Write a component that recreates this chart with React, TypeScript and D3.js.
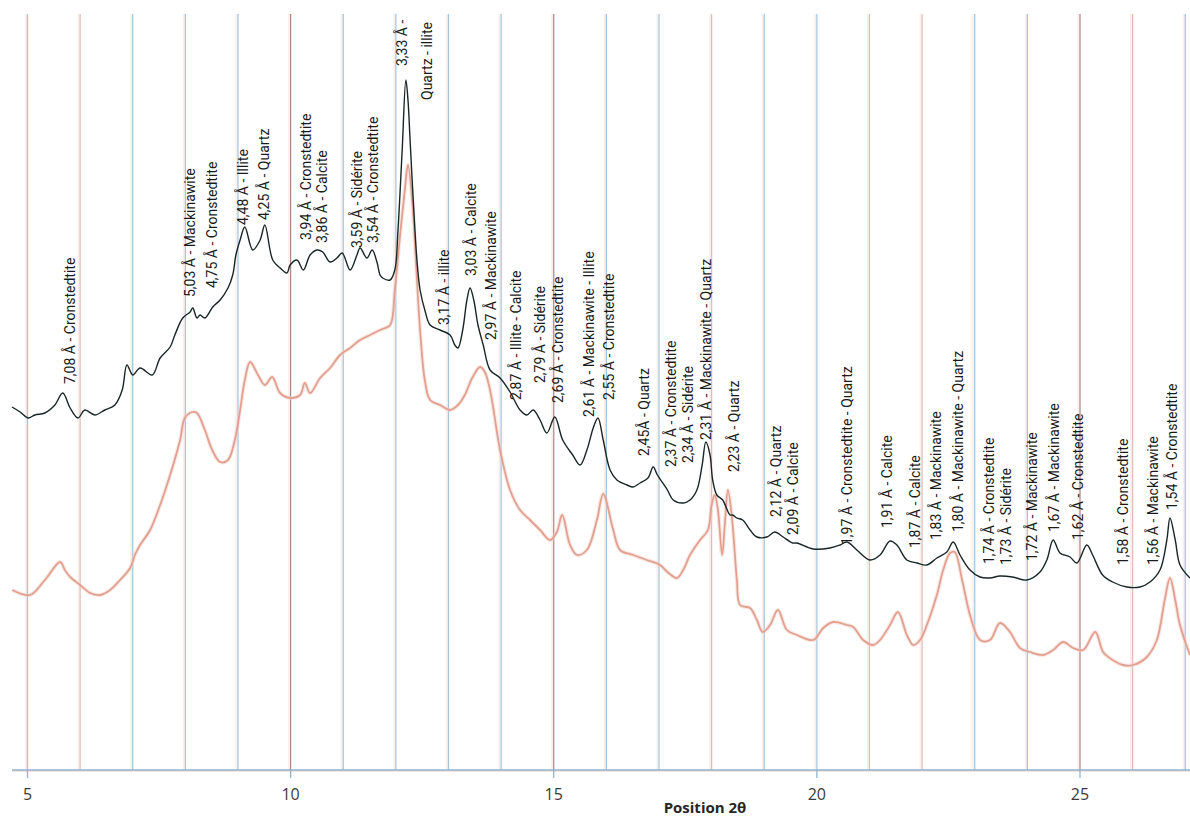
import React from "react";
import * as d3 from "d3";

// ---- data: 2θ position and intensity (arbitrary units) ----
const blackTheta = [4.705,4.86,5.01,5.14,5.33,5.52,5.67,5.81,5.96,6.09,6.28,6.47,6.66,6.80,6.89,7.00,7.14,7.37,7.52,7.71,7.80,7.95,8.09,8.14,8.22,8.28,8.37,8.52,8.66,8.81,8.90,8.96,9.04,9.13,9.28,9.42,9.51,9.66,9.80,9.93,9.99,10.12,10.24,10.37,10.50,10.61,10.75,10.88,10.98,11.13,11.26,11.32,11.45,11.55,11.64,11.70,11.75,11.89,11.98,12.04,12.12,12.19,12.23,12.27,12.33,12.40,12.46,12.55,12.65,12.84,13.03,13.12,13.18,13.27,13.35,13.41,13.48,13.56,13.66,13.79,13.98,14.17,14.36,14.49,14.61,14.74,14.87,15.02,15.17,15.36,15.50,15.63,15.75,15.84,15.94,16.07,16.20,16.39,16.51,16.64,16.79,16.89,16.97,17.16,17.27,17.46,17.59,17.72,17.82,17.89,17.97,18.02,18.10,18.21,18.35,18.40,18.48,18.59,18.73,18.86,19.05,19.20,19.36,19.54,19.62,19.93,20.25,20.44,20.57,20.76,21.01,21.20,21.39,21.52,21.71,21.90,22.09,22.28,22.47,22.59,22.72,22.91,23.10,23.29,23.48,23.72,23.99,24.24,24.37,24.49,24.62,24.81,24.94,25.13,25.24,25.43,25.62,25.89,26.14,26.33,26.52,26.65,26.71,26.81,26.90,27.09];
const blackIntensity = [363,358,352,355,357,365,377,362,352,360,355,360,365,380,405,395,402,395,412,423,435,452,458,462,452,455,452,463,470,482,495,515,530,543,520,530,545,510,502,497,505,510,500,515,520,518,508,512,517,500,515,522,512,520,508,495,492,490,500,540,620,690,670,630,570,510,480,460,445,440,435,425,422,440,470,482,470,445,425,400,392,378,360,355,360,350,337,353,330,315,305,320,342,352,330,300,290,285,283,287,292,303,295,280,270,267,270,280,305,328,315,290,275,270,255,255,252,250,240,233,233,238,233,227,227,221,222,225,228,220,210,215,229,225,210,207,205,212,218,228,215,200,193,192,194,193,190,198,210,230,217,213,207,225,215,195,188,183,183,188,200,230,252,230,205,192];

const pinkTheta = [4.71,5.05,5.33,5.62,5.71,5.81,6.00,6.19,6.38,6.57,6.76,6.95,7.04,7.14,7.33,7.52,7.71,7.90,7.99,8.13,8.22,8.37,8.51,8.66,8.81,8.94,9.04,9.13,9.23,9.38,9.51,9.65,9.80,9.99,10.18,10.27,10.37,10.56,10.75,10.94,11.13,11.32,11.51,11.70,11.89,11.98,12.08,12.17,12.23,12.31,12.38,12.46,12.55,12.65,12.84,13.03,13.18,13.31,13.45,13.60,13.69,13.79,13.98,14.17,14.36,14.55,14.74,14.93,15.06,15.16,15.31,15.44,15.63,15.82,15.94,16.13,16.26,16.51,16.77,17.02,17.16,17.34,17.46,17.59,17.78,17.93,18.00,18.06,18.12,18.20,18.25,18.31,18.39,18.48,18.54,18.73,18.86,18.97,19.11,19.26,19.43,19.62,19.93,20.12,20.31,20.57,20.69,20.88,21.07,21.20,21.39,21.54,21.71,21.83,21.96,22.09,22.28,22.40,22.53,22.62,22.76,22.91,23.10,23.29,23.48,23.67,23.86,24.05,24.30,24.49,24.68,24.87,25.06,25.29,25.44,25.62,25.82,26.01,26.27,26.46,26.61,26.71,26.81,26.90,27.09];
const pinkIntensity = [180,175,190,208,200,193,185,177,175,180,190,202,215,225,240,265,295,330,352,358,357,340,320,308,310,330,360,390,408,395,385,393,377,372,375,387,377,392,402,415,422,430,435,440,445,480,535,580,605,570,510,440,390,370,365,360,365,375,392,403,398,380,320,280,260,250,240,230,238,255,225,215,220,250,276,240,220,215,210,205,198,192,200,215,230,240,265,275,260,215,245,280,250,190,165,162,150,138,145,160,140,135,130,142,148,145,143,130,125,130,145,158,135,125,130,145,175,200,217,218,190,155,130,130,147,138,122,118,115,120,128,122,120,138,118,110,105,105,113,130,170,192,170,145,115];

// peak annotations: text, 2θ position, intensity where the label starts
const labelTexts = ["7,08 Å - Cronstedtite","5,03 Å - Mackinawite","4,75 Å - Cronstedtite","4,48 Å - Illite","4,25 Å - Quartz","3,94 Å - Cronstedtite","3,86 Å - Calcite","3,59 Å - Sidérite","3,54 Å - Cronstedtite","3,33 Å -","Quartz - illite","3,17 Å - illite","3,03 Å - Calcite","2,97 Å - Mackinawite","2,87 Å - Illite - Calcite","2,79 Å - Sidérite","2,69 Å - Cronstedtite","2,61 Å - Mackinawite - Illite","2,55 Å - Cronstedtite","2,45Å - Quartz","2,37 Å - Cronstedtite","2,34 Å - Sidérite","2,31 Å - Mackinawite - Quartz","2,23 Å - Quartz","2,12 Å - Quartz","2,09 Å - Calcite","1,97 Å - Cronstedtite - Quartz","1,91 Å - Calcite","1,87 Å - Calcite","1,83 Å - Mackinawite","1,80 Å - Mackinawite - Quartz","1,74 Å - Cronstedtite","1,73 Å - Sidérite","1,72 Å - Mackinawite","1,67 Å - Mackinawite","1,62 Å - Cronstedtite","1,58 Å - Cronstedtite","1,56 Å - Mackinawite","1,54 Å - Cronstedtite"];
const labelTheta = [5.81,8.09,8.51,9.09,9.49,10.29,10.60,11.26,11.56,12.12,12.59,12.92,13.43,13.80,14.29,14.74,15.09,15.68,16.05,16.72,17.23,17.55,17.89,18.42,19.22,19.54,20.57,21.33,21.86,22.26,22.68,23.27,23.59,24.09,24.50,24.96,25.82,26.39,26.75];
const labelIntensity = [386,473,482,545,550,530,527,522,527,704,670,445,494,430,370,387,367,353,370,314,303,307,330,298,253,235,225,242,222,230,238,206,205,209,238,230,205,205,260];

const xTicks = [5, 10, 15, 20, 25];
const gridValues = d3.range(5, 28);
const warmGrid = [6, 18, 21, 22, 26];
const darkGrid = [10, 15, 25];

const W = 1190;
const H = 818;
const axisY = 770;
const topY = 14;

export default function App() {
  const x = d3.scaleLinear().domain([5, 25]).range([27.5, 1080]);
  const y = d3.scaleLinear().domain([0, 760]).range([axisY, axisY - 760]);

  const black = blackTheta.map((t, i) => [t, blackIntensity[i]] as [number, number]);
  const pink = pinkTheta.map((t, i) => [t, pinkIntensity[i]] as [number, number]);
  const smooth = d3
    .line<[number, number]>()
    .x((d) => x(d[0]))
    .y((d) => y(d[1]))
    .curve(d3.curveCatmullRom.alpha(0.5));

  const font = "Roboto, 'Liberation Sans', sans-serif";

  return (
    <svg
      width={W}
      height={H}
      style={{ position: "absolute", left: 0, top: 0, background: "#fff" }}
      xmlns="http://www.w3.org/2000/svg"
    >
      <rect x={0} y={0} width={W} height={H} fill="#fff" />
      {/* gridlines */}
      {gridValues.map((g) => {
        const gx = x(g);
        const warm = warmGrid.includes(g);
        const dark = darkGrid.includes(g);
        return (
          <g key={g}>
            <line x1={gx - 1.5} x2={gx - 1.5} y1={topY} y2={axisY} stroke="#f3d2ca" strokeWidth={2} opacity={0.35} />
            <line
              x1={gx}
              x2={gx}
              y1={topY}
              y2={axisY}
              stroke={dark ? "#ad8584" : warm ? "#e0bcb4" : "#a3c4dc"}
              strokeWidth={1.2}
            />
          </g>
        );
      })}
      {/* x axis */}
      <line x1={12} x2={W} y1={axisY + 1} y2={axisY + 1} stroke="#f3d2ca" strokeWidth={2} opacity={0.6} />
      <line x1={12} x2={W} y1={axisY} y2={axisY} stroke="#8fb3cc" strokeWidth={1.3} />
      {xTicks.map((t) => (
        <g key={t}>
          <line x1={x(t)} x2={x(t)} y1={axisY} y2={axisY + 8} stroke="#8fb3cc" strokeWidth={1.3} />
          <text
            x={x(t)}
            y={axisY + 30}
            textAnchor="middle"
            fontFamily="'Open Sans', sans-serif"
            fontSize={16}
            fill="#3a3a3a"
          >
            {t}
          </text>
        </g>
      ))}
      <text
        x={705}
        y={813}
        textAnchor="middle"
        fontFamily="'Open Sans', sans-serif"
        fontWeight="bold"
        fontSize={15}
        fill="#262626"
      >
        Position 2θ
      </text>
      {/* curves */}
      <path d={smooth(pink) || ""} fill="none" stroke="#f4d0c8" strokeWidth={4} opacity={0.5} />
      <path d={smooth(pink) || ""} fill="none" stroke="#e2a090" strokeWidth={1.8} />
      <path d={smooth(black) || ""} fill="none" stroke="#1a2626" strokeWidth={1.4} strokeLinejoin="round" />
      {/* labels */}
      {labelTexts.map((txt, i) => {
        const lx = x(labelTheta[i]);
        const ly = y(labelIntensity[i]);
        return (
          <text
            key={i}
            transform={`translate(${lx},${ly}) rotate(-90)`}
            dy="0.35em"
            fontFamily={font}
            fontSize={14}
            fill="#1a1a1a"
          >
            {txt}
          </text>
        );
      })}
    </svg>
  );
}
